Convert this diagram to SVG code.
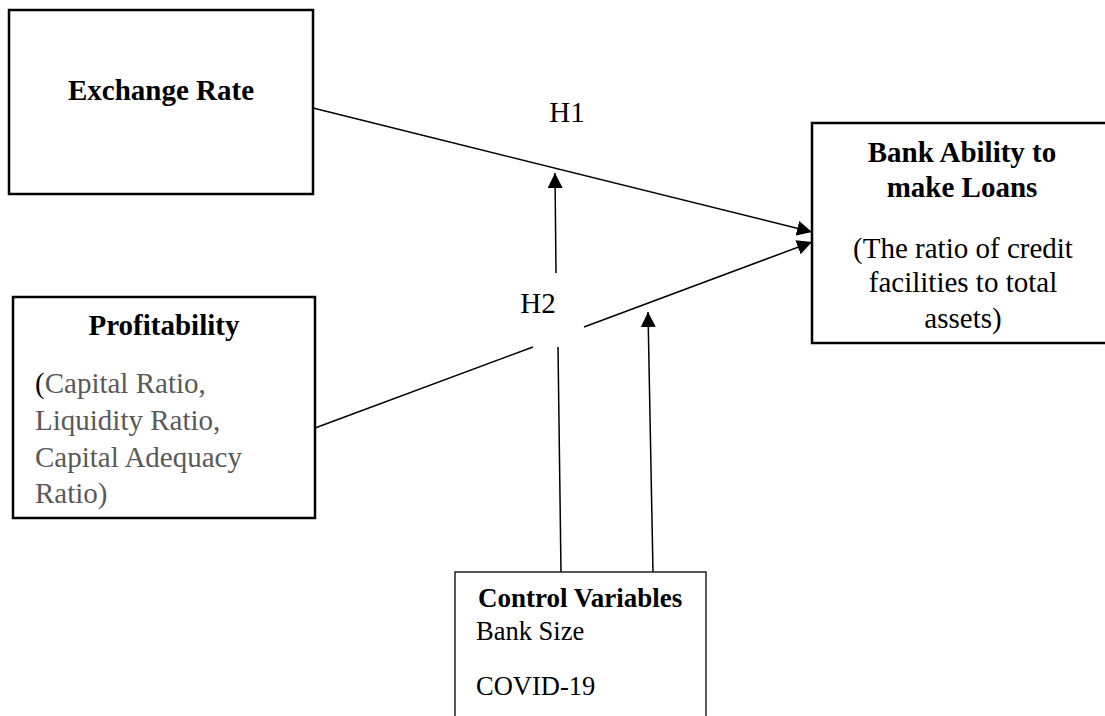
<svg xmlns="http://www.w3.org/2000/svg" width="1105" height="716" viewBox="0 0 1105 716">
<style>
.box{fill:#fff;stroke:#000;stroke-width:2.5}
.thin{fill:#fff;stroke:#000;stroke-width:1.3}
.t{font-family:"Liberation Serif","Times New Roman",serif;font-size:29px;fill:#000}
.b{font-weight:bold}
.g{fill:#595959}
.c{text-anchor:middle}
.conn{stroke:#000;stroke-width:1.5;fill:none}
</style>
<defs>
<marker id="ah" viewBox="0 0 15 15" refX="15" refY="7.5" markerWidth="15" markerHeight="15" markerUnits="userSpaceOnUse" orient="auto">
<path d="M0,0 L15,7.5 L0,15 z" fill="#000"/>
</marker>
</defs>
<rect width="1105" height="716" fill="#fff"/>
<g id="exchange-rate">
<rect class="box" x="9" y="10" width="304" height="184"/>
<text class="t b c" x="161" y="100">Exchange Rate</text>
</g>
<g id="bank-ability">
<rect class="box" x="812" y="123" width="300" height="220"/>
<text class="t b c" x="962" y="162">Bank Ability to</text>
<text class="t b c" x="962" y="197">make Loans</text>
<text class="t c" x="963" y="258">(The ratio of credit</text>
<text class="t c" x="963" y="292">facilities to total</text>
<text class="t c" x="963" y="328">assets)</text>
</g>
<g id="profitability">
<rect class="box" x="13" y="297" width="302" height="221"/>
<text class="t b c" x="164" y="335">Profitability</text>
<text class="t" x="35" y="393">(<tspan class="g">Capital Ratio,</tspan></text>
<text class="t g" x="35" y="430">Liquidity Ratio,</text>
<text class="t g" x="35" y="467">Capital Adequacy</text>
<text class="t g" x="35" y="503">Ratio)</text>
</g>
<g id="control-variables">
<rect class="thin" x="455" y="572" width="251" height="160"/>
<text class="t b" x="478" y="607" style="font-size:27px">Control Variables</text>
<text class="t" x="476" y="640" style="font-size:26.5px">Bank Size</text>
<text class="t" x="476" y="695" style="font-size:26.5px">COVID-19</text>
</g>
<g id="connectors">
<line class="conn" x1="313" y1="108" x2="812" y2="232" marker-end="url(#ah)"/>
<line class="conn" x1="315" y1="428" x2="533" y2="347"/>
<line class="conn" x1="584" y1="327" x2="812" y2="242" marker-end="url(#ah)"/>
<line class="conn" x1="561" y1="572" x2="558" y2="347"/>
<line class="conn" x1="556" y1="273" x2="555" y2="173" marker-end="url(#ah)"/>
<line class="conn" x1="653" y1="572" x2="648" y2="312" marker-end="url(#ah)"/>
</g>
<g id="labels">
<text class="t c" x="567" y="122">H1</text>
<text class="t c" x="538" y="313">H2</text>
</g>
</svg>
